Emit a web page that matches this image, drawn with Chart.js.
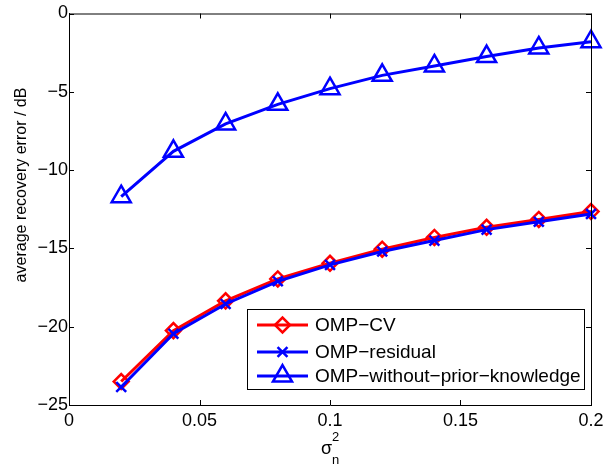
<!DOCTYPE html>
<html>
<head>
<meta charset="utf-8">
<script src="https://cdn.jsdelivr.net/npm/chart.js@4/dist/chart.umd.min.js"></script>
<style>
  html, body { margin: 0; padding: 0; background: #fff; }
</style>
</head>
<body>
<canvas id="myChart" width="605" height="467"></canvas>
<script>
// noise variance values (x axis)
const noise = [0.02, 0.04, 0.06, 0.08, 0.1, 0.12, 0.14, 0.16, 0.18, 0.2];
// average recovery error in dB
const ompCv = [-23.5, -20.25, -18.35, -16.95, -15.95, -15.05, -14.3, -13.65, -13.15, -12.65];
const ompResidual = [-23.85, -20.45, -18.55, -17.1, -16.05, -15.2, -14.5, -13.8, -13.3, -12.8];
const ompNoPrior = [-11.7, -8.8, -7.05, -5.8, -4.8, -3.95, -3.35, -2.75, -2.2, -1.8];

const xTicks = [0, 0.05, 0.1, 0.15, 0.2];
const yTicks = [0, -5, -10, -15, -20, -25];
const seriesNames = ['OMP\u2212CV', 'OMP\u2212residual', 'OMP\u2212without\u2212prior\u2212knowledge'];
const yTitle = 'average recovery error / dB';

const FONT = 'Liberation Sans, Arial, Helvetica, sans-serif';

function points(ys) {
  return noise.map((x, i) => ({ x: x, y: ys[i] }));
}

// inner tick marks + top/right box lines, like matlab axes
const boxPlugin = {
  id: 'box',
  afterDatasetsDraw(chart) {
    const ctx = chart.ctx;
    const a = chart.chartArea;
    const xs = chart.scales.x, ys = chart.scales.y;
    ctx.save();
    ctx.strokeStyle = '#000';
    ctx.lineWidth = 1;
    ctx.beginPath();
    ctx.moveTo(a.left, a.top + 0.5);
    ctx.lineTo(a.right + 0.5, a.top + 0.5);
    ctx.lineTo(a.right + 0.5, a.bottom);
    const len = 5;
    xTicks.forEach(v => {
      const px = Math.round(xs.getPixelForValue(v)) + 0.5;
      ctx.moveTo(px, a.bottom); ctx.lineTo(px, a.bottom - len);
      ctx.moveTo(px, a.top); ctx.lineTo(px, a.top + len);
    });
    yTicks.forEach(v => {
      const py = Math.round(ys.getPixelForValue(v)) + 0.5;
      ctx.moveTo(a.left, py); ctx.lineTo(a.left + len, py);
      ctx.moveTo(a.right, py); ctx.lineTo(a.right - len, py);
    });
    ctx.stroke();
    ctx.restore();
  }
};

// legend box in lower right corner
const legendPlugin = {
  id: 'innerLegend',
  afterDraw(chart) {
    const ctx = chart.ctx;
    const a = chart.chartArea;
    const right = a.right - 7, bottom = a.bottom - 16;
    const w = 337, h = 80;
    const left = right - w, top = bottom - h;
    ctx.save();
    ctx.fillStyle = '#fff';
    ctx.fillRect(left, top, w, h);
    ctx.strokeStyle = '#000';
    ctx.lineWidth = 1;
    ctx.strokeRect(Math.round(left) + 0.5, Math.round(top) + 0.5, w, h);
    const rows = [top + 16, top + 43, top + 67];
    // legend order: CV, residual, without prior
    const order = [1, 0, 2];
    order.forEach((di, i) => {
      const ds = chart.data.datasets[di];
      const y = rows[i];
      ctx.strokeStyle = ds.borderColor;
      ctx.lineWidth = ds.borderWidth;
      ctx.beginPath();
      ctx.moveTo(left + 10, y);
      ctx.lineTo(left + 61, y);
      ctx.stroke();
      ctx.fillStyle = 'rgba(0,0,0,0)';
      ctx.lineWidth = ds.pointBorderWidth;
      Chart.helpers.drawPoint(ctx, {
        pointStyle: ds.pointStyle,
        radius: ds.pointRadius,
        borderWidth: ds.pointBorderWidth,
        rotation: 0
      }, left + 35.5, y);
      ctx.fillStyle = '#000';
      ctx.font = '19px ' + FONT;
      ctx.textBaseline = 'middle';
      ctx.textAlign = 'left';
      ctx.fillText(seriesNames[i], left + 68, y + 1);
    });
    ctx.restore();
  }
};

// axis titles: y label and sigma_n^2
const titlePlugin = {
  id: 'axisTitles',
  afterDraw(chart) {
    const ctx = chart.ctx;
    const a = chart.chartArea;
    const cx = (a.left + a.right) / 2;
    ctx.save();
    ctx.fillStyle = '#000';
    ctx.textBaseline = 'alphabetic';
    ctx.textAlign = 'left';
    ctx.font = '18px ' + FONT;
    const sw = ctx.measureText('\u03c3').width;
    const x0 = cx - (sw + 7) / 2;
    ctx.fillText('\u03c3', x0, 454);
    ctx.font = '13px ' + FONT;
    ctx.fillText('2', x0 + sw, 441);
    ctx.fillText('n', x0 + sw, 464);

    ctx.translate(22, 185);
    ctx.rotate(-Math.PI / 2);
    ctx.font = '16px ' + FONT;
    ctx.textAlign = 'center';
    ctx.textBaseline = 'middle';
    ctx.fillText(yTitle, 0, 0);
    ctx.restore();
  }
};

const ctx = document.getElementById('myChart').getContext('2d');
new Chart(ctx, {
  type: 'line',
  data: {
    datasets: [
      {
        label: seriesNames[1],
        data: points(ompResidual),
        borderColor: '#0000ff',
        borderWidth: 3,
        pointStyle: 'crossRot',
        pointRadius: 7,
        pointBorderWidth: 2.5,
        pointBorderColor: '#0000ff',
        pointBackgroundColor: 'rgba(0,0,0,0)',
        order: 0
      },
      {
        label: seriesNames[0],
        data: points(ompCv),
        borderColor: '#ff0000',
        borderWidth: 3,
        pointStyle: 'rectRot',
        pointRadius: 7.5,
        pointBorderWidth: 2.5,
        pointBorderColor: '#ff0000',
        pointBackgroundColor: 'rgba(0,0,0,0)',
        order: 1
      },
      {
        label: seriesNames[2],
        data: points(ompNoPrior),
        borderColor: '#0000ff',
        borderWidth: 3,
        pointStyle: 'triangle',
        pointRadius: 11,
        pointBorderWidth: 2.5,
        pointBorderColor: '#0000ff',
        pointBackgroundColor: 'rgba(0,0,0,0)',
        order: 2
      }
    ]
  },
  options: {
    responsive: false,
    animation: false,
    devicePixelRatio: 1,
    clip: false,
    layout: { padding: { top: 6, right: 14, left: 0, bottom: 0 } },
    plugins: {
      legend: { display: false },
      tooltip: { enabled: false }
    },
    elements: { line: { tension: 0 } },
    scales: {
      x: {
        type: 'linear',
        min: 0,
        max: 0.2,
        afterBuildTicks: s => { s.ticks = xTicks.map(v => ({ value: v })); },
        afterFit: s => { s.height = 62; s.paddingLeft = 0; s.paddingRight = 0; },
        grid: { display: false, drawTicks: false },
        border: { display: true, color: '#000', width: 1 },
        ticks: {
          color: '#000',
          font: { family: FONT, size: 18 },
          padding: 5,
          maxRotation: 0,
          callback: v => String(v)
        }
      },
      y: {
        type: 'linear',
        min: -25,
        max: 0,
        afterBuildTicks: s => { s.ticks = yTicks.map(v => ({ value: v })); },
        afterFit: s => { s.width = 69; s.paddingTop = 0; s.paddingBottom = 0; },
        grid: { display: false, drawTicks: false },
        border: { display: true, color: '#000', width: 1 },
        ticks: {
          color: '#000',
          font: { family: FONT, size: 18 },
          padding: 1,
          callback: v => String(v).replace('-', '\u2212')
        }
      }
    }
  },
  plugins: [boxPlugin, legendPlugin, titlePlugin]
});
</script>
</body>
</html>
